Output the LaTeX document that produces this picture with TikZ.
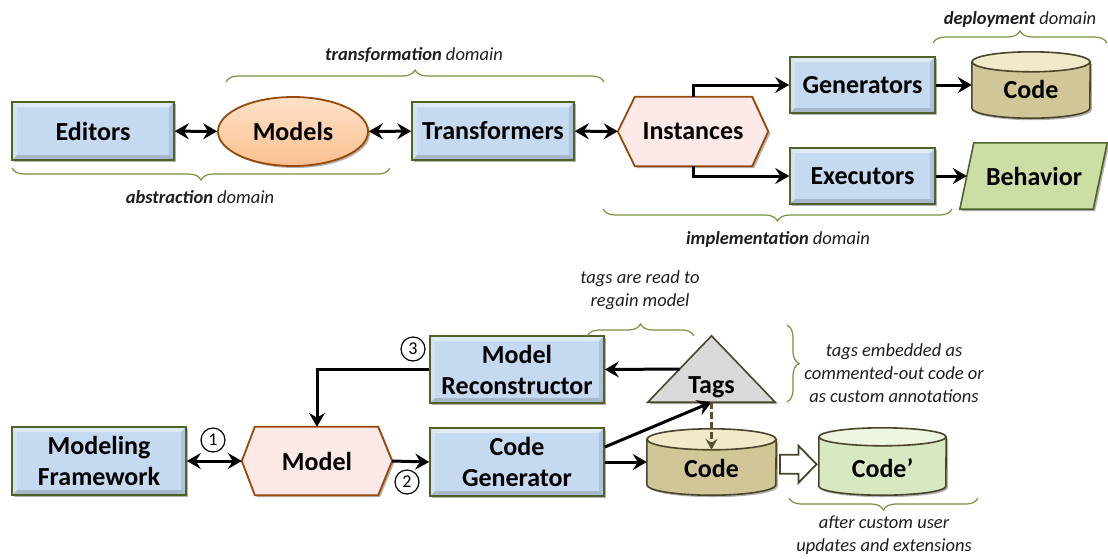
\documentclass[tikz,border=0pt]{standalone}
\usepackage{fontspec}
\setmainfont{Carlito}
\usetikzlibrary{arrows.meta,decorations.pathreplacing,shadows,calc,backgrounds,shapes.geometric}
\definecolor{boxfill}{RGB}{197,217,241}
\definecolor{boxline}{RGB}{79,98,40}
\definecolor{ellfill}{RGB}{250,192,144}
\definecolor{elltop}{RGB}{255,226,200}
\definecolor{brownline}{RGB}{152,72,7}
\definecolor{hexfill}{RGB}{253,233,231}
\definecolor{codefill}{RGB}{208,198,152}
\definecolor{codetop}{RGB}{240,234,200}
\definecolor{codeline}{RGB}{74,69,42}
\definecolor{primefill}{RGB}{216,232,192}
\definecolor{primetop}{RGB}{238,246,226}
\definecolor{behfill}{RGB}{205,222,165}
\definecolor{tagfill}{RGB}{217,217,217}
\definecolor{bracecol}{RGB}{119,147,60}
\definecolor{dashcol}{RGB}{89,80,50}
\definecolor{notecol}{RGB}{30,30,30}
\newcommand\drawcyl[6]{%
  \filldraw[draw=#6, fill=#4, line width=1.6pt, shad]
    ([yshift=-#3pt]#1.north west) -- ([yshift=#3pt]#1.south west)
    arc[start angle=180, end angle=360, x radius=#2pt, y radius=#3pt]
    -- ([yshift=-#3pt]#1.north east) -- cycle;
  \filldraw[draw=#6, fill=#5, line width=1.6pt]
    ([yshift=-#3pt]#1.north) ellipse[x radius=#2pt, y radius=#3pt];
}
\tikzset{
  lbl/.style={font=\fontsize{26}{31}\selectfont\bfseries, align=center, inner sep=0pt},
  shad/.style={drop shadow={shadow xshift=2pt, shadow yshift=-2pt, opacity=0.3, fill=black}},
  bevel/.style={path picture={
    \fill[white,opacity=0.45] (path picture bounding box.north west) -- (path picture bounding box.north east) -- ([shift={(-5pt,-5pt)}]path picture bounding box.north east) -- ([shift={(5pt,-5pt)}]path picture bounding box.north west) -- cycle;
    \fill[white,opacity=0.25] (path picture bounding box.north west) -- ([shift={(5pt,-5pt)}]path picture bounding box.north west) -- ([shift={(5pt,5pt)}]path picture bounding box.south west) -- (path picture bounding box.south west) -- cycle;
    \fill[black,opacity=0.15] (path picture bounding box.south west) -- (path picture bounding box.south east) -- ([shift={(-5pt,5pt)}]path picture bounding box.south east) -- ([shift={(5pt,5pt)}]path picture bounding box.south west) -- cycle;
    \fill[black,opacity=0.10] (path picture bounding box.north east) -- (path picture bounding box.south east) -- ([shift={(-5pt,5pt)}]path picture bounding box.south east) -- ([shift={(-5pt,-5pt)}]path picture bounding box.north east) -- cycle;
  }},
  bluebox/.style={lbl, rectangle, draw=boxline, line width=1.6pt, fill=boxfill, shad, bevel},
  hexsty/.style={draw=brownline, line width=1.8pt, fill=hexfill, shad},
  conn/.style={line width=3pt, -{Stealth[length=14pt, width=16pt, inset=5pt]}},
  dconn/.style={line width=3pt, {Stealth[length=14pt, width=16pt, inset=5pt]}-{Stealth[length=14pt, width=16pt, inset=5pt]}},
  brc/.style={draw=bracecol, line width=1.2pt, decorate, decoration={brace, amplitude=12pt}},
  note/.style={font=\fontsize{18.5}{23}\selectfont\itshape, align=center, text=notecol, inner sep=0pt},
  num/.style={circle, draw, line width=1.2pt, minimum size=24pt, inner sep=0pt, font=\fontsize{18}{18}\selectfont},
}
\begin{document}
\begin{tikzpicture}[x=1pt,y=-1pt]
\begin{scope}[on background layer]
  \fill[white] (0,0) rectangle (1108,558);
\end{scope}
\useasboundingbox (0,0) rectangle (1108,558);

% ---------- top diagram ----------
\node[bluebox, minimum width=162pt, minimum height=58pt] (editors) at (93,131) {Editors};
\node[lbl, ellipse, draw=brownline, line width=1.8pt, top color=elltop, bottom color=ellfill, shad,
      minimum width=150pt, minimum height=69pt] (models) at (293,131.5) {Models};
\node[bluebox, minimum width=162pt, minimum height=58pt] (trans) at (493,131) {Transformers};
\node[lbl, minimum width=150pt, minimum height=69pt] (inst) at (693,131.5) {Instances};
\node[bluebox, minimum width=145pt, minimum height=56pt] (gen) at (862.5,85) {Generators};
\node[bluebox, minimum width=145pt, minimum height=56pt] (exe) at (862.5,176) {Executors};
\node[lbl, text width=118pt, text height=46pt, text depth=20pt] (code1) at (1031,85) {Code};
\node[lbl, minimum width=148pt, minimum height=66pt] (beh) at (1034,176) {Behavior};

\begin{scope}[on background layer]
  \filldraw[hexsty] (inst.west) -- ([xshift=17pt]inst.north west) -- ([xshift=-16pt]inst.north east)
    -- (inst.east) -- ([xshift=-16pt]inst.south east) -- ([xshift=17pt]inst.south west) -- cycle;
  \drawcyl{code1}{59}{10}{codefill}{codetop}{codeline}
  \filldraw[draw=boxline, fill=behfill, line width=1.6pt, shad]
    (beh.south west) -- ([xshift=14pt]beh.north west) -- ([xshift=-1pt]beh.north east)
    -- ([xshift=-15pt]beh.south east) -- cycle;
\end{scope}

\draw[dconn] (editors) -- (models);
\draw[dconn] (models) -- (trans);
\draw[dconn] (trans) -- (inst);
\draw[conn] (inst.north) |- (gen.west);
\draw[conn] (inst.south) |- (exe.west);
\draw[conn] (gen.east) -- (code1.west);
\draw[conn] (exe.east) -- ([xshift=7pt]beh.west);

\draw[brc] (390,168) -- (12,168);
\node[note] (absl) at (200,197) {\textbf{abstraction} domain};
\draw[brc] (226,82) -- (604,82);
\node[note] (trl) at (414,55) {\textbf{transformation} domain};
\draw[brc] (952,209) -- (603,209);
\node[note] (impl) at (778,239) {\textbf{implementation} domain};
\draw[brc] (933,43) -- (1107,43);
\node[note] (depl) at (1020,19) {\textbf{deployment} domain};

% ---------- bottom diagram ----------
\node[bluebox, minimum width=174pt, minimum height=68pt] (mf) at (99,461) {Modeling\\Framework};
\node[lbl, minimum width=150pt, minimum height=68pt] (model) at (317,461) {Model};
\node[bluebox, minimum width=174pt, minimum height=67pt] (mr) at (517,369.5) {Model\\Reconstructor};
\node[bluebox, minimum width=174pt, minimum height=68pt] (cg) at (517,462) {Code\\Generator};
\node[lbl, text width=127pt, text height=57pt, text depth=9pt] (tags) at (711.5,369) {Tags};
\node[lbl, text width=129pt, text height=48pt, text depth=18pt] (code2) at (711.5,462) {Code};
\node[lbl, text width=127pt, text height=49pt, text depth=18pt] (prime) at (882.5,461.5) {Code’};

\begin{scope}[on background layer]
  \filldraw[hexsty] (model.west) -- ([xshift=13pt]model.north west) -- ([xshift=-14pt]model.north east)
    -- (model.east) -- ([xshift=-14pt]model.south east) -- ([xshift=13pt]model.south west) -- cycle;
  \filldraw[draw=codeline, fill=tagfill, line width=1.6pt, shad]
    (tags.south west) -- (tags.north) -- (tags.south east) -- cycle;
  \drawcyl{code2}{64.5}{10.5}{codefill}{codetop}{codeline}
  \drawcyl{prime}{63.5}{9}{primefill}{primetop}{codeline}
\end{scope}

\draw[dconn] (mf) -- (model);
\draw[conn] (model.east) -- (cg.west);
\draw[conn] (mr.west) -| (model.north);
\draw[conn] ($(tags.north)!0.5!(tags.south west)$) -- (mr.east);
\draw[conn] ([yshift=15pt]cg.east) -- (tags.south);
\draw[conn] (cg.east) -- (code2.west);
\draw[dashcol, line width=2.2pt, dash pattern=on 7pt off 3pt, -{Stealth[length=11pt, width=12pt, inset=4pt]}] (tags.south) -- ([yshift=-21pt]code2.north);
\coordinate (hollow) at ($(code2.east)!0.5!(prime.west) + (0,2.5)$);
\draw[draw=codeline, fill=white, line width=1.8pt, line join=miter]
  ([shift={(-17.5pt,9.5pt)}]hollow) -- ([shift={(1pt,9.5pt)}]hollow) -- ([shift={(1pt,18.5pt)}]hollow)
  -- ([shift={(19pt,0pt)}]hollow) -- ([shift={(1pt,-18.5pt)}]hollow) -- ([shift={(1pt,-9.5pt)}]hollow)
  -- ([shift={(-17.5pt,-9.5pt)}]hollow) -- cycle;

\node[num] (n1) at (213,440) {1};
\node[num] (n2) at (407,482) {2};
\node[num] (n3) at (413,349) {3};

\draw[brc] (587,336) -- (694,336);
\node[note] (readl) at (640,290) {tags are read to\\regain model};
\draw[brc] (787,325) -- (787,402);
\node[note] (embl) at (894,373) {tags embedded as\\commented-out code or\\as custom annotations};
\draw[brc] (978,498) -- (789,498);
\node[note] (afterl) at (884,535.5) {after custom user\\updates and extensions};
\end{tikzpicture}
\end{document}
